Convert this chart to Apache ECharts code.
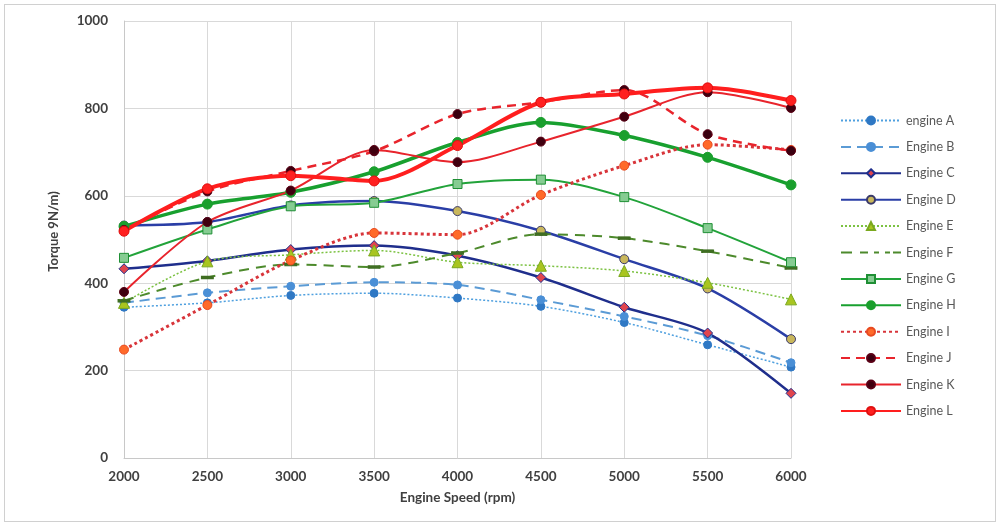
<!DOCTYPE html>
<html>
<head>
<meta charset="utf-8">
<script src="https://cdn.jsdelivr.net/npm/echarts@6/dist/echarts.min.js"></script>
<style>
  html, body { margin: 0; padding: 0; background: #ffffff; }
  #frame { position: absolute; left: 4px; top: 4px; width: 992px; height: 518px; border: 1px solid #d0d0d0; box-sizing: border-box; }
  #chart { position: absolute; left: 0; top: 0; width: 1000px; height: 529px; }
</style>
</head>
<body>
<div id="frame"></div>
<div id="chart"></div>
<script>
// Engine speed (rpm) sample points
const speeds = [2000, 2500, 3000, 3500, 4000, 4500, 5000, 5500, 6000];

// Torque curves per engine
const engineA = [345, 355, 372, 377, 366, 347, 310, 259, 208];
const engineB = [355, 378, 393, 402, 396, 362, 324, 280, 218];
const engineC = [433, 451, 477, 486, 463, 413, 345, 286, 148];
const engineD = [532, 540, 578, 588, 565, 520, 455, 388, 272];
const engineE = [355, 450, 465, 475, 448, 440, 428, 401, 363];
const engineF = [360, 413, 443, 437, 469, 512, 503, 473, 435];
const engineG = [458, 523, 576, 584, 627, 637, 597, 526, 448];
const engineH = [530, 581, 608, 655, 722, 768, 738, 688, 625];
const engineI = [248, 350, 452, 515, 511, 602, 669, 717, 705];
const engineJ = [522, 610, 657, 702, 787, 814, 842, 741, 703];
const engineK = [380, 540, 612, 705, 677, 724, 781, 837, 801];
const engineL = [519, 616, 646, 634, 715, 814, 833, 847, 818];

const seriesNames = ['engine A', 'Engine B', 'Engine C', 'Engine D', 'Engine E', 'Engine F',
                     'Engine G', 'Engine H', 'Engine I', 'Engine J', 'Engine K', 'Engine L'];
const seriesValues = [engineA, engineB, engineC, engineD, engineE, engineF,
                      engineG, engineH, engineI, engineJ, engineK, engineL];

// Legend glyph for the dashed line with a dash marker (60 x 10 box)
const dashedLegendIcon = 'path://M0,4 L11,4 L11,6 L0,6 Z M19,4 L27,4 L27,6 L19,6 Z ' +
                         'M33,4 L38,4 L38,6 L33,6 Z M44,4 L49,4 L49,6 L44,6 Z M52,4 L60,4 L60,6 L52,6 Z';

// Line and marker appearance for each engine
const styles = [
  { color: '#4fa0df', type: [2, 2], width: 1.5, symbol: 'circle', size: 8, fill: '#2f78c4', border: '#2f78c4' },
  { color: '#5b9bd5', type: [10, 6], width: 2, symbol: 'circle', size: 8, fill: '#4a8fd6', border: '#4a8fd6' },
  { color: '#1f2e8c', type: 'solid', width: 2.5, symbol: 'diamond', size: 10, fill: '#e0454e', border: '#1f2e8c' },
  { color: '#2a3ea6', type: 'solid', width: 2.5, symbol: 'circle', size: 9, fill: '#c9b75c', border: '#3a3a6a' },
  { color: '#7cc242', type: [2, 2], width: 1.5, symbol: 'triangle', size: 11, fill: '#a9c520', border: '#7aa81e' },
  { color: '#4d8a2c', type: [10, 7], width: 2, symbol: 'rect', size: [11, 3], fill: '#3f6e22', border: '#3f6e22' },
  { color: '#22a33a', type: 'solid', width: 2, symbol: 'rect', size: 9, fill: '#86cc92', border: '#1f8f35' },
  { color: '#18a02f', type: 'solid', width: 3.5, symbol: 'circle', size: 10, fill: '#1a9f2d', border: '#1a9f2d' },
  { color: '#d8343a', type: [3, 3], width: 3, symbol: 'circle', size: 9, fill: '#ff6a2a', border: '#e84a20' },
  { color: '#e8242c', type: [9, 6], width: 2.5, symbol: 'circle', size: 9, fill: '#3a0010', border: '#5a0015' },
  { color: '#e8242c', type: 'solid', width: 2, symbol: 'circle', size: 9, fill: '#40000f', border: '#5a0015' },
  { color: '#ff1e1e', type: 'solid', width: 4, symbol: 'circle', size: 10, fill: '#ff2020', border: '#e01010' }
];

const fontFamily = 'Lato, "Open Sans", "Liberation Sans", sans-serif';

const series = seriesNames.map((name, i) => {
  const s = styles[i];
  return {
    name: name,
    type: 'line',
    smooth: 0.3,
    data: speeds.map((x, j) => [x, seriesValues[i][j]]),
    symbol: s.symbol,
    symbolSize: s.size,
    showSymbol: true,
    lineStyle: { color: s.color, width: s.width, type: s.type },
    itemStyle: { color: s.fill, borderColor: s.border, borderWidth: 1 },
    emphasis: { disabled: true },
    animation: false
  };
});

const legendData = seriesNames.map(name =>
  name === 'Engine F'
    ? { name: name, icon: dashedLegendIcon, itemStyle: { color: '#4d8a2c', borderWidth: 0 } }
    : { name: name }
);

const plainNumber = v => String(v);

const chart = echarts.init(document.getElementById('chart'), null, { renderer: 'canvas' });
chart.setOption({
  backgroundColor: 'transparent',
  animation: false,
  grid: { left: 124, right: 209, top: 21, bottom: 71 },
  legend: {
    orient: 'vertical',
    left: 835,
    top: 109,
    itemWidth: 60,
    itemHeight: 10,
    itemGap: 13.4,
    textStyle: { fontFamily: fontFamily, fontSize: 12.5, color: '#595959' },
    data: legendData
  },
  xAxis: {
    type: 'value',
    min: 2000,
    max: 6000,
    interval: 500,
    name: 'Engine Speed (rpm)',
    nameLocation: 'middle',
    nameGap: 33,
    nameTextStyle: { fontFamily: fontFamily, fontSize: 13.5, fontWeight: 'bold', color: '#404040' },
    axisLine: { lineStyle: { color: '#c8c8c8' } },
    axisTick: { show: false },
    axisLabel: { fontFamily: fontFamily, fontSize: 13.5, fontWeight: 'bold', color: '#404040', margin: 12, formatter: plainNumber },
    splitLine: { show: true, lineStyle: { color: '#d9d9d9' } }
  },
  yAxis: {
    type: 'value',
    min: 0,
    max: 1000,
    interval: 200,
    name: 'Torque 9N/m)',
    nameLocation: 'middle',
    nameGap: 64,
    nameTextStyle: { fontFamily: fontFamily, fontSize: 13, fontWeight: 'bold', color: '#404040', padding: [0, 0, 0, 16] },
    axisLine: { show: true, lineStyle: { color: '#c8c8c8' } },
    axisTick: { show: false },
    axisLabel: { fontFamily: fontFamily, fontSize: 13.5, fontWeight: 'bold', color: '#404040', margin: 16, formatter: plainNumber },
    splitLine: { show: true, lineStyle: { color: '#d9d9d9' } }
  },
  series: series
});
</script>
</body>
</html>
